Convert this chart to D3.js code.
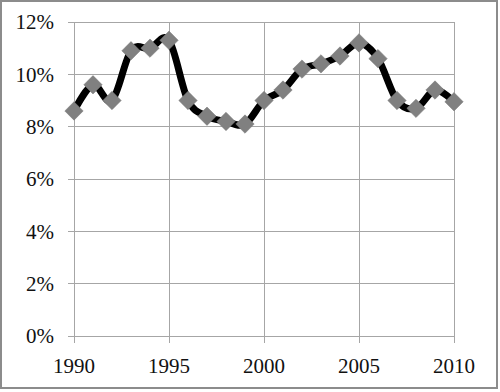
<!DOCTYPE html>
<html><head><meta charset="utf-8">
<script src="https://cdn.jsdelivr.net/npm/d3@7/dist/d3.min.js"></script>
<style>body{margin:0;background:#fff}svg{display:block}text{font-family:"Liberation Serif","Times New Roman",serif}</style>
</head><body><svg id="c" width="500" height="392"></svg>
<script>
const years = [1990,1991,1992,1993,1994,1995,1996,1997,1998,1999,2000,2001,2002,2003,2004,2005,2006,2007,2008,2009,2010];
const values = [8.6,9.6,9.0,10.9,11.0,11.3,9.0,8.4,8.2,8.1,9.0,9.4,10.2,10.4,10.7,11.2,10.6,9.0,8.7,9.4,8.95];
const xTicks = [1990,1995,2000,2005,2010];
const yTicks = [0,2,4,6,8,10,12];

const svg = d3.select("#c");
svg.append("rect").attr("x",1).attr("y",1).attr("width",496).attr("height",387)
  .attr("fill","#fff").attr("stroke","#8c8c8c").attr("stroke-width",2);

const x = d3.scaleLinear().domain([1990,2010]).range([74,454]);
const y = d3.scaleLinear().domain([0,12]).range([336,22]);

const grid = svg.append("g");
grid.selectAll("line.h").data(yTicks).join("line")
  .attr("x1",68).attr("x2",454).attr("y1",d=>y(d)).attr("y2",d=>y(d))
  .attr("stroke","#a6a6a6").attr("stroke-width",1).attr("shape-rendering","crispEdges");
grid.selectAll("line.v").data(xTicks).join("line")
  .attr("x1",d=>x(d)).attr("x2",d=>x(d)).attr("y1",y(12)).attr("y2",343)
  .attr("stroke","#a6a6a6").attr("stroke-width",1).attr("shape-rendering","crispEdges");

svg.append("g").selectAll("text").data(yTicks).join("text")
  .attr("x",54).attr("y",d=>y(d)).attr("dy","0.35em").attr("text-anchor","end")
  .attr("font-size",21).attr("fill","#111").text(d=>d+"%");
svg.append("g").selectAll("text").data(xTicks).join("text")
  .attr("x",d=>x(d)).attr("y",373).attr("text-anchor","middle")
  .attr("font-size",21).attr("fill","#111").text(d=>d);

const data = years.map((yr,i)=>({yr,v:values[i]}));
const line = d3.line().x(d=>x(d.yr)).y(d=>y(d.v)).curve(d3.curveCardinal.tension(0));
svg.append("path").datum(data).attr("d",line).attr("fill","none")
  .attr("stroke","#000").attr("stroke-width",7).attr("stroke-linejoin","round");

svg.append("g").selectAll("rect").data(data).join("rect")
  .attr("x",-6.5).attr("y",-6.5).attr("width",13).attr("height",13)
  .attr("transform",d=>`translate(${x(d.yr)},${y(d.v)}) rotate(45)`)
  .attr("fill","#808080").attr("stroke","#7a7a7a").attr("stroke-width",0.5);
</script></body></html>
